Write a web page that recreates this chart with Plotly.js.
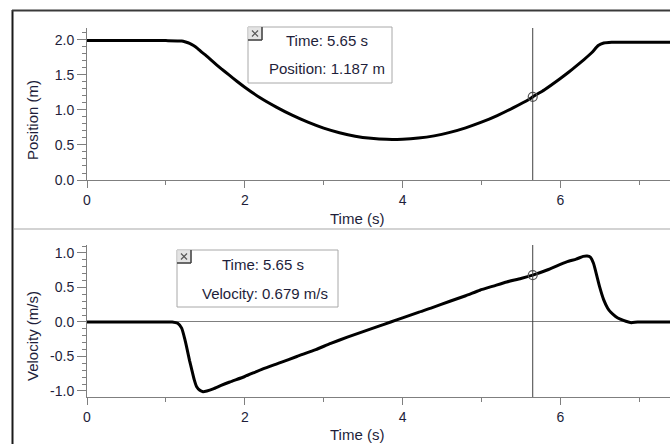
<!DOCTYPE html>
<html>
<head>
<meta charset="utf-8">
<script src="https://cdn.plot.ly/plotly-3.0.1.min.js"></script>
<style>html,body{margin:0;padding:0;background:#fff;}#chart{width:670px;height:444px;}</style>
</head>
<body>
<div id="chart"></div>
<script>
// ---- data ----
const posT = [0, 0.5, 1.0, 1.2, 1.25, 1.3, 1.35, 1.4, 1.45, 1.5, 1.6, 1.7, 1.8, 1.9, 2.0, 2.2, 2.4, 2.6, 2.8, 3.0, 3.2, 3.4, 3.6, 3.8, 4.0, 4.2, 4.4, 4.6, 4.8, 5.0, 5.2, 5.4, 5.6, 5.65, 5.8, 6.0, 6.1, 6.2, 6.3, 6.4, 6.48, 6.55, 6.65, 7.0, 7.4];
const posY = [1.99, 1.99, 1.99, 1.985, 1.97, 1.95, 1.92, 1.88, 1.83, 1.785, 1.685, 1.59, 1.5, 1.41, 1.325, 1.17, 1.04, 0.925, 0.825, 0.74, 0.675, 0.625, 0.595, 0.58, 0.582, 0.598, 0.63, 0.68, 0.745, 0.825, 0.92, 1.03, 1.15, 1.187, 1.29, 1.45, 1.535, 1.625, 1.72, 1.82, 1.92, 1.955, 1.967, 1.967, 1.967];
const velT = [0, 0.5, 1.0, 1.08, 1.15, 1.2, 1.24, 1.27, 1.3, 1.33, 1.36, 1.39, 1.43, 1.47, 1.52, 1.6, 1.7, 1.81, 2.0, 2.23, 2.45, 2.66, 2.9, 3.09, 3.3, 3.5, 3.7, 3.85, 4.0, 4.2, 4.36, 4.6, 4.8, 4.98, 5.15, 5.32, 5.5, 5.65, 5.85, 6.08, 6.2, 6.29, 6.34, 6.38, 6.42, 6.46, 6.5, 6.55, 6.6, 6.64, 6.7, 6.76, 6.83, 6.9, 6.98, 7.4];
const velY = [0, 0, 0, 0, -0.02, -0.09, -0.25, -0.4, -0.56, -0.7, -0.84, -0.94, -0.99, -1.01, -1.0, -0.97, -0.92, -0.87, -0.79, -0.68, -0.59, -0.5, -0.4, -0.31, -0.22, -0.14, -0.06, 0, 0.06, 0.14, 0.2, 0.3, 0.38, 0.46, 0.52, 0.58, 0.63, 0.679, 0.76, 0.87, 0.91, 0.95, 0.955, 0.94, 0.85, 0.68, 0.5, 0.32, 0.2, 0.14, 0.08, 0.04, 0.01, -0.01, 0, 0];
const cursorT = 5.65;
const cursorPos = 1.187;
const cursorVel = 0.679;
const xTickVals = [0, 2, 4, 6];
const xTickText = ["0", "2", "4", "6"];
const posTickVals = [0, 0.5, 1.0, 1.5, 2.0];
const posTickText = ["0.0", "0.5", "1.0", "1.5", "2.0"];
const velTickVals = [-1.0, -0.5, 0, 0.5, 1.0];
const velTickText = ["-1.0", "-0.5", "0.0", "0.5", "1.0"];
const xTitle = "Time (s)";
const posTitle = "Position (m)";
const velTitle = "Velocity (m/s)";

// ---- layout helpers (pixel -> paper) ----
const W = 670, H = 444;
const px = v => v / W;
const py = v => 1 - v / H;

const FONT = "Liberation Sans, Arial, sans-serif";
const TXT = "#1e1e3a";
const AX = "#7f7f7f";

function xAxis(anchor) {
  return {
    anchor: anchor, domain: [px(87), 1], range: [0, 7.39],
    tickmode: "array", tickvals: xTickVals, ticktext: xTickText,
    ticks: "outside", ticklen: 7, tickwidth: 1, tickcolor: AX,
    minor: {tickmode: "linear", tick0: 1, dtick: 2, ticks: "outside", ticklen: 4, tickcolor: AX, showgrid: false},
    showline: true, linecolor: AX, linewidth: 1, showgrid: false, zeroline: false,
    tickfont: {family: FONT, size: 14, color: TXT}, fixedrange: true, automargin: false
  };
}
function yAxis(anchor, dom, rng, tv, tt, zl) {
  return {
    anchor: anchor, domain: dom, range: rng,
    tickmode: "array", tickvals: tv, ticktext: tt,
    ticks: "outside", ticklen: 9, tickwidth: 1, tickcolor: AX,
    minor: {tickmode: "linear", tick0: 0, dtick: 0.1, ticks: "outside", ticklen: 4, tickcolor: AX, showgrid: false},
    showline: true, linecolor: AX, linewidth: 1, showgrid: false,
    zeroline: zl, zerolinecolor: AX, zerolinewidth: 1,
    tickfont: {family: FONT, size: 14, color: TXT}, fixedrange: true, automargin: false
  };
}

const traces = [
  {x: posT, y: posY, xaxis: "x", yaxis: "y", type: "scatter", mode: "lines",
   line: {color: "#000", width: 3, shape: "spline", smoothing: 0.5}, hoverinfo: "skip"},
  {x: velT, y: velY, xaxis: "x2", yaxis: "y2", type: "scatter", mode: "lines",
   line: {color: "#000", width: 3, shape: "spline", smoothing: 0.5}, hoverinfo: "skip"},
  {x: [cursorT], y: [cursorPos], xaxis: "x", yaxis: "y", type: "scatter", mode: "markers",
   marker: {symbol: "circle-open", size: 9, color: "#555", line: {width: 1.2, color: "#555"}}, hoverinfo: "skip"},
  {x: [cursorT], y: [cursorVel], xaxis: "x2", yaxis: "y2", type: "scatter", mode: "markers",
   marker: {symbol: "circle-open", size: 9, color: "#555", line: {width: 1.2, color: "#555"}}, hoverinfo: "skip"}
];

function boxShapes(x0, y0, x1, y1) {
  const bw = 14, bh = 13;
  return [
    {type: "rect", xref: "paper", yref: "paper", x0: px(x0), x1: px(x1), y0: py(y1), y1: py(y0),
     line: {color: "#a8a8a8", width: 1}, fillcolor: "#ffffff", layer: "above"},
    {type: "rect", xref: "paper", yref: "paper", x0: px(x0), x1: px(x0 + bw), y0: py(y0 + bh), y1: py(y0),
     line: {color: "#d0d0d0", width: 1}, fillcolor: "#e4e4e4", layer: "above"},
    {type: "line", xref: "paper", yref: "paper", x0: px(x0 + bw), x1: px(x0 + bw), y0: py(y0 + bh), y1: py(y0),
     line: {color: "#404040", width: 1.5}, layer: "above"},
    {type: "line", xref: "paper", yref: "paper", x0: px(x0), x1: px(x0 + bw), y0: py(y0 + bh), y1: py(y0 + bh),
     line: {color: "#404040", width: 1.5}, layer: "above"},
    {type: "line", xref: "paper", yref: "paper", x0: px(x0 + 4), x1: px(x0 + 10), y0: py(y0 + 3.5), y1: py(y0 + 9.5),
     line: {color: "#555", width: 1.2}, layer: "above"},
    {type: "line", xref: "paper", yref: "paper", x0: px(x0 + 4), x1: px(x0 + 10), y0: py(y0 + 9.5), y1: py(y0 + 3.5),
     line: {color: "#555", width: 1.2}, layer: "above"}
  ];
}

const shapes = [
  // outer frame
  {type: "line", xref: "paper", yref: "paper", x0: px(12.5), x1: px(12.5), y0: 0, y1: py(10), line: {color: "#1a1a1a", width: 2}},
  {type: "line", xref: "paper", yref: "paper", x0: px(12), x1: 1, y0: py(10.5), y1: py(10.5), line: {color: "#3a3a3a", width: 2}},
  // separator between panels
  {type: "line", xref: "paper", yref: "paper", x0: px(14), x1: 1, y0: py(229), y1: py(229), line: {color: "#c4c4c4", width: 1.5}},
  // cursors
  {type: "line", xref: "x", yref: "y domain", x0: cursorT, x1: cursorT, y0: 0, y1: 1, line: {color: "#404040", width: 1}},
  {type: "line", xref: "x2", yref: "y2 domain", x0: cursorT, x1: cursorT, y0: 0, y1: 1, line: {color: "#404040", width: 1}}
].concat(boxShapes(248, 27, 392, 83)).concat(boxShapes(177, 250, 338, 307));

function txt(text, x, y, size, angle) {
  return {text: text, xref: "paper", yref: "paper", x: px(x), y: py(y), xanchor: "center", yanchor: "middle",
          showarrow: false, textangle: angle || 0, font: {family: FONT, size: size, color: TXT}};
}

const annotations = [
  txt(posTitle, 32, 120, 15, -90),
  txt(velTitle, 32, 336, 15, -90),
  txt(xTitle, 357, 219, 15),
  txt(xTitle, 357, 434, 15),
  txt("Time: " + cursorT.toFixed(2) + " s", 327, 40.5, 15),
  txt("Position: " + cursorPos.toFixed(3) + " m", 327, 69, 15),
  txt("Time: " + cursorT.toFixed(2) + " s", 263, 264, 15),
  txt("Velocity: " + cursorVel.toFixed(3) + " m/s", 264.5, 293, 15)
];

const layout = {
  width: W, height: H,
  margin: {l: 0, r: 0, t: 0, b: 0, pad: 0},
  paper_bgcolor: "#fff", plot_bgcolor: "#fff",
  showlegend: false,
  xaxis: xAxis("y"),
  yaxis: yAxis("x", [py(180), py(28)], [0, 2.17], posTickVals, posTickText, false),
  xaxis2: xAxis("y2"),
  yaxis2: yAxis("x2", [py(397), py(245)], [-1.087, 1.115], velTickVals, velTickText, true),
  shapes: shapes,
  annotations: annotations,
  hovermode: false
};

Plotly.newPlot("chart", traces, layout, {staticPlot: true, displayModeBar: false});
</script>
</body>
</html>
